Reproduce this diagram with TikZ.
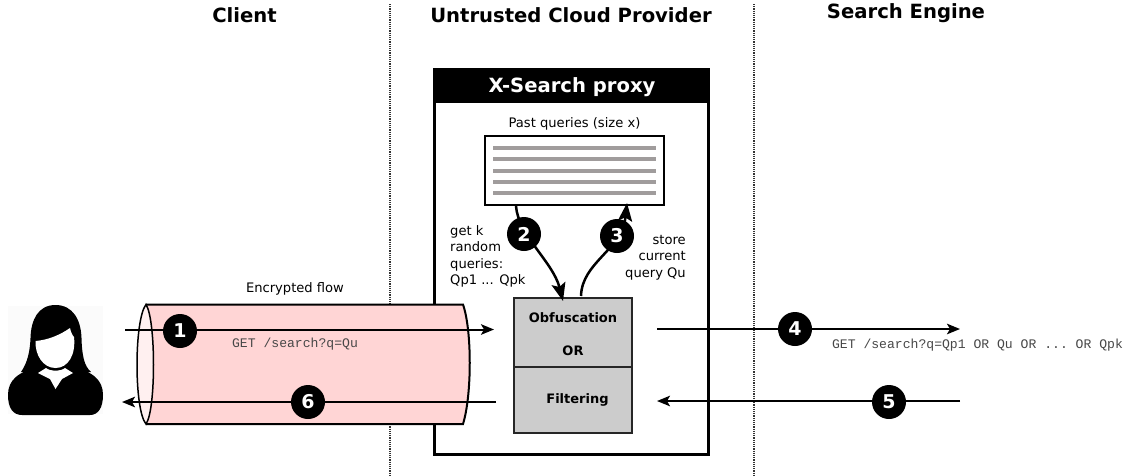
\documentclass[tikz,border=0pt]{standalone}
\usepackage{fontspec}
\setmainfont{DejaVu Sans}
\setmonofont{Liberation Mono}
\usetikzlibrary{arrows.meta}
\tikzset{
  x=1pt,y=-1pt,
  conn/.style={line width=2pt,-{Stealth[length=13pt,width=10.5pt,inset=3pt]}},
  curved/.style={line width=2.5pt,-{Stealth[length=18pt,width=14pt,inset=3.5pt]}},
  badge/.style={circle,fill=black,minimum size=34pt,inner sep=0pt,text=white,font=\bfseries\fontsize{19}{19}\selectfont},
  head/.style={font=\bfseries\fontsize{19.6}{20}\selectfont,anchor=center},
  small/.style={font=\fontsize{13.1}{16.5}\selectfont,inner sep=0pt},
  mono/.style={font=\ttfamily\fontsize{13.1}{14}\selectfont,text=black!72,inner sep=0pt},
  sep/.style={line width=2pt,dash pattern=on 1.2pt off 1pt,black!80},
  bar/.style={line width=3.7pt,draw=barcol},
  procbox/.style={draw=black!85,fill=black!20,line width=2pt},
  opname/.style={font=\bfseries\fontsize{13}{14}\selectfont,inner sep=0pt}
}
\definecolor{tube}{HTML}{FFD5D5}
\definecolor{tubeend}{HTML}{FFF0F0}
\definecolor{barcol}{HTML}{A09C9C}
\begin{document}
\begin{tikzpicture}
\useasboundingbox (0,0) rectangle (1125,475);
\fill[white] (0,0) rectangle (1125,475);
% separators
\coordinate (s1a) at (390,4); \coordinate (s1b) at (390,475);
\coordinate (s2a) at (753.5,4); \coordinate (s2b) at (753.5,475);
\draw[sep] (s1a) -- (s1b);
\draw[sep] (s2a) -- (s2b);
% headers
\node[head] (hclient) at (244.5,15) {Client};
\node[head] (hcloud) at (571,15) {Untrusted Cloud Provider};
\node[head] (hengine) at (906,13) {Search Engine};
% proxy
\draw[line width=3pt,fill=white] (434.5,69) rectangle (708.5,454.5);
\fill (433,67.5) rectangle (710,103);
\node[font=\bfseries\fontsize{19.6}{20}\selectfont,text=white] (ptitle) at (572,87) {X-Search proxy};
% tube
\path[fill=tube] (146,304.5) -- (463,304.5) .. controls (472,330) and (472,395) .. (463,424) -- (146,424) -- cycle;
\draw[line width=2pt] (146,304.5) -- (463,304.5) .. controls (472,330) and (472,395) .. (463,424) -- (146,424);
\draw[line width=1.5pt,fill=tubeend] (146,304.5) .. controls (134,320) and (134,410) .. (146,424) .. controls (156,410) and (156,320) .. (146,304.5) -- cycle;
\node[small] (enc) at (295,288.5) {Encrypted flow};
% past queries
\node[small] (pastlbl) at (574.5,123.5) {Past queries (size x)};
\node[draw,line width=2.2pt,fill=white,minimum width=179pt,minimum height=69pt,inner sep=0pt] (past) at (574.5,170.5) {};
\foreach \yy in {148,159,171,182,193}
  \draw[bar] (493,\yy) -- (656,\yy);
% process
\node[procbox,minimum width=118pt,minimum height=69pt,inner sep=0pt] (obf) at (573,332.5) {};
\node[procbox,minimum width=118pt,minimum height=66pt,inner sep=0pt] (filt) at (573,400) {};
\node[opname] (obft) at (573,318) {Obfuscation};
\node[opname] (ort) at (573,350.5) {OR};
\node[opname] (filtt) at (577.5,399.5) {Filtering};
% labels
\node[small,align=left,anchor=north west] (getk) at (450,225) {get k\\random\\queries:\\Qp1 ... Qpk};
\node[small,align=right,anchor=north east] (store) at (686,235) {store\\current\\query Qu};
\node[mono] (m1) at (295,344) {GET /search?q=Qu};
\node[mono] (m2) at (977.5,345.5) {GET /search?q=Qp1 OR Qu OR ... OR Qpk};
% coordinates
\coordinate (a1s) at (125,329.5); \coordinate (a1e) at (494,329.5);
\coordinate (a6s) at (496,402); \coordinate (a6e) at (122,402);
\coordinate (a4s) at (657,329); \coordinate (a4e) at (960,329);
\coordinate (a5s) at (960,401); \coordinate (a5e) at (657,401);
\draw[conn] (a1s) -- (a1e);
\draw[conn] (a6s) -- (a6e);
\draw[conn] (a4s) -- (a4e);
\draw[conn] (a5s) -- (a5e);
% curved
\coordinate (c2s) at (516,206); \coordinate (c2e) at (563,301);
\coordinate (c3s) at (581,296); \coordinate (c3e) at (627,203);
\draw[curved] (c2s) .. controls (518,235) and (553,262) .. (c2e);
\draw[curved] (c3s) .. controls (582,262) and (622,250) .. (c3e);
% badges
\node[badge] (b1) at (180,331) {1};
\node[badge] (b2) at (524,234) {2};
\node[badge] (b3) at (617,236) {3};
\node[badge] (b4) at (795,329) {4};
\node[badge] (b5) at (889,402) {5};
\node[badge] (b6) at (308,402) {6};
% person
\fill[black!1.5] (8,306) rectangle (103,414);
\fill (8,395) .. controls (8,380) and (18,372) .. (40,366) -- (72,366) .. controls (93,372) and (103,380) .. (103,395) .. controls (103,408) and (98,415) .. (90,415) -- (22,415) .. controls (13,415) and (8,408) .. (8,395) -- cycle;
\fill (55.5,305) .. controls (73,305) and (81,320) .. (81.5,338) .. controls (82,355) and (84,366) .. (91,372) -- (70,374) -- (40,374) -- (21,372) .. controls (28,362) and (30,350) .. (30.5,338) .. controls (31,320) and (38,305) .. (55.5,305) -- cycle;
\fill[white] (35.5,341) .. controls (48,340) and (60,335) .. (70,328) .. controls (71,333) and (73,336) .. (74,337) .. controls (76,355) and (68,368) .. (55.5,368) .. controls (43,368) and (35,355) .. (35.5,341) -- cycle;
\fill[white] (38,373) -- (46,368) .. controls (50,371.5) and (61,371.5) .. (65,368) -- (73,373) -- (62,379) -- (55.5,389) -- (50,379) -- cycle;
\end{tikzpicture}
\end{document}
